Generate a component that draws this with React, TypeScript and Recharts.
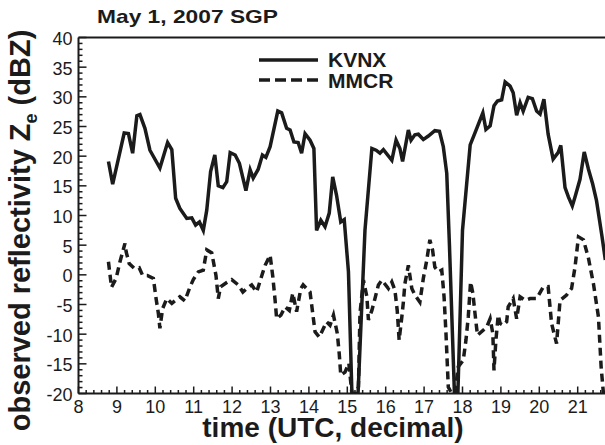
import React from 'react';
import { LineChart, Line, XAxis, YAxis, ReferenceLine } from 'recharts';

// KVNX radar reflectivity (solid)
const kvnxTime = [
  8.78, 8.89, 9.19, 9.3, 9.41, 9.52, 9.6, 9.73, 9.86, 10.12,
  10.32, 10.43, 10.53, 10.64, 10.82, 10.95, 11.05, 11.15, 11.25, 11.34,
  11.44, 11.55, 11.64, 11.76, 11.86, 11.95, 12.08, 12.19, 12.36, 12.47,
  12.55, 12.68, 12.79, 12.88, 12.99, 13.19, 13.29, 13.42, 13.51, 13.61,
  13.72, 13.81, 13.9, 14.03, 14.13, 14.2, 14.31, 14.42, 14.53, 14.62,
  14.72, 14.83, 14.92, 15.03, 15.12, 15.28, 15.46, 15.64, 15.75, 15.85,
  15.94, 16.16, 16.27, 16.37, 16.44, 16.59, 16.66, 16.76, 16.85, 16.98,
  17.11, 17.28, 17.4, 17.5, 17.59, 17.66, 17.79, 17.88, 18.0, 18.2,
  18.33, 18.53, 18.61, 18.72, 18.82, 18.91, 19.02, 19.11, 19.24, 19.32,
  19.41, 19.5, 19.58, 19.71, 19.82, 19.93, 20.02, 20.12, 20.23, 20.36,
  20.49, 20.56, 20.67, 20.76, 20.86, 20.93, 21.06, 21.17, 21.28, 21.39,
  21.49, 21.63, 21.72,
];
const kvnxZe = [
  19.1, 15.3, 23.9, 23.8, 20.5, 26.8, 27.0, 24.7, 21.0, 18.0,
  22.3, 21.1, 12.9, 11.2, 9.5, 9.6, 8.4, 8.9, 7.5, 10.9,
  17.4, 20.2, 15.0, 14.7, 15.7, 20.6, 20.2, 18.8, 14.2, 17.7,
  16.3, 17.8, 20.2, 19.8, 21.6, 27.6, 27.3, 24.7, 24.4, 22.4,
  22.3, 20.5, 23.8, 22.7, 21.3, 7.5, 9.2, 8.1, 10.4, 16.5,
  13.4, 8.9, 9.3, 0.5, -20, -20, 7.5, 21.3, 21.0, 20.5,
  21.1, 19.3, 22.7, 21.3, 19.1, 24.4, 22.7, 23.6, 23.7, 22.8,
  23.4, 24.3, 24.2, 21.6, 17.1, 5.0, -20, -20, 7.5, 21.9,
  24.0, 27.3, 24.5, 25.1, 28.5, 29.3, 29.5, 32.5, 31.8, 30.7,
  26.9, 29.0, 27.6, 29.9, 29.7, 27.6, 27.1, 29.6, 23.7, 19.5,
  20.6, 21.8, 14.7, 13.1, 11.6, 13.1, 16.1, 20.7, 17.8, 15.3,
  12.5, 6.6, 2.5,
];

// MMCR cloud radar reflectivity (dashed)
const mmcrTime = [
  8.78, 8.86, 8.98, 9.08, 9.21, 9.24, 9.32, 9.45, 9.58, 9.67,
  9.79, 9.95, 10.02, 10.08, 10.12, 10.19, 10.3, 10.43, 10.64, 10.77,
  10.9, 10.99, 11.12, 11.25, 11.34, 11.47, 11.58, 11.64, 11.7, 11.86,
  11.99, 12.16, 12.28, 12.38, 12.51, 12.64, 12.74, 12.86, 12.99, 13.06,
  13.12, 13.16, 13.27, 13.38, 13.49, 13.58, 13.68, 13.79, 13.85, 14.03,
  14.1, 14.16, 14.27, 14.38, 14.46, 14.55, 14.64, 14.74, 14.79, 14.83,
  14.94, 15.04, 15.12, 15.22, 15.29, 15.33, 15.42, 15.51, 15.55, 15.64,
  15.72, 15.81, 15.9, 16.07, 16.16, 16.24, 16.3, 16.35, 16.42, 16.46,
  16.5, 16.59, 16.68, 16.76, 16.89, 16.98, 17.07, 17.15, 17.22, 17.28,
  17.37, 17.46, 17.52, 17.57, 17.63, 17.72, 17.8, 17.89, 18.02, 18.09,
  18.15, 18.21, 18.27, 18.33, 18.39, 18.63, 18.72, 18.79, 18.82, 18.87,
  18.93, 18.98, 19.06, 19.15, 19.19, 19.32, 19.41, 19.5, 19.63, 19.76,
  19.93, 20.1, 20.23, 20.32, 20.45, 20.54, 20.71, 20.84, 20.93, 21.02,
  21.15, 21.28, 21.41, 21.54, 21.61, 21.67,
];
const mmcrZe = [
  2.2, -2.1, -0.6, 2.2, 5.3, 3.9, 1.9, 1.1, 1.2, -0.1,
  -0.1, -0.6, -4.0, -6.5, -9.0, -5.7, -4.0, -4.8, -3.7, -4.4,
  -2.1, -0.8, 0.5, 0.8, 4.2, 3.7, -0.1, -4.0, -2.0, -1.3,
  -0.8, -1.7, -2.9, -2.3, -1.7, -2.9, -0.8, 1.6, 3.3, -0.3,
  -4.3, -7.4, -6.8, -5.4, -6.0, -3.1, -6.2, -2.3, -1.7, -2.9,
  -6.5, -9.6, -10.5, -9.0, -7.9, -8.5, -6.8, -9.9, -13.3, -16.9,
  -16.4, -14.9, -20, -20, -18.9, -6.5, -0.9, -3.7, -7.6, -6.0,
  -4.0, -1.7, -0.9, -2.3, -1.2, -2.6, -6.0, -11.0, -7.1, -4.6,
  -1.5, 1.6, -2.3, -3.4, -4.6, -0.6, 2.5, 5.9, 4.2, 1.3,
  0.5, 0.8, -3.7, -9.9, -18.9, -20, -20, -15.5, -14.4, -11.0,
  -7.1, -1.2, -3.1, -6.8, -10.2, -8.8, -7.4, -9.9, -16.1, -11.0,
  -6.8, -8.2, -8.5, -7.9, -5.4, -4.0, -7.4, -3.7, -4.3, -4.0,
  -4.0, -2.1, -2.0, -8.2, -11.6, -4.3, -3.4, -2.3, 1.3, 6.4,
  5.9, 2.8, -1.5, -7.1, -15.5, -20,
];

// labelled ticks (the 22 tick sits past the cropped right edge)
const xMajorTicks = [8, 9, 10, 11, 12, 13, 14, 15, 16, 17, 18, 19, 20, 21, 22];
const xTickLabels = ['8', '9', '10', '11', '12', '13', '14', '15', '16', '17', '18', '19', '20', '21', ''];
const yMajorTicks = [-20, -15, -10, -5, 0, 5, 10, 15, 20, 25, 30, 35, 40];

const INK = '#1b1b1b';
const FONT = '"Liberation Sans", Arial, Helvetica, sans-serif';

const kvnx = kvnxTime.map((t, i) => ({ t, ze: kvnxZe[i] }));
const mmcr = mmcrTime.map((t, i) => ({ t, ze: mmcrZe[i] }));

// minor ticks: 0.2 h on x, 1 dBZ on y
const xTicks = xMajorTicks.flatMap((m, i) =>
  i === xMajorTicks.length - 1 ? [m] : [0, 1, 2, 3, 4].map((k) => Math.round((m + k * 0.2) * 10) / 10)
);
const yTicks = yMajorTicks.flatMap((m, i) =>
  i === yMajorTicks.length - 1 ? [m] : [0, 1, 2, 3, 4].map((k) => m + k)
);

function XTick({ x, y, payload }: any) {
  const v = payload.value;
  const idx = xMajorTicks.indexOf(v);
  const major = idx >= 0;
  return (
    <g>
      <line x1={x} x2={x} y1={y} y2={y - (major ? 7 : 3.5)} stroke={INK} strokeWidth={1.5} />
      {major && xTickLabels[idx] && (
        <text x={x} y={y + 19} textAnchor="middle" fontSize={18} fill={INK} fontFamily={FONT}>
          {xTickLabels[idx]}
        </text>
      )}
    </g>
  );
}

function YTick({ x, y, payload }: any) {
  const v = payload.value;
  const major = v % 5 === 0;
  return (
    <g>
      <line x1={x} x2={x + (major ? 8 : 4)} y1={y} y2={y} stroke={INK} strokeWidth={1.5} />
      {major && (
        <text x={x - 6} y={y + 7.5} textAnchor="end" fontSize={18} fill={INK} fontFamily={FONT}>
          {v}
        </text>
      )}
    </g>
  );
}

export default function App() {
  return (
    <div
      style={{
        position: 'absolute',
        left: 0,
        top: 0,
        width: 605,
        height: 445,
        overflow: 'hidden',
        background: '#fff',
        fontFamily: FONT,
      }}
    >
      <LineChart width={640} height={445} margin={{ top: 37.5, right: 23.9, left: 0, bottom: 0 }}>
        <XAxis
          type="number"
          dataKey="t"
          domain={[8, 22]}
          ticks={xTicks}
          interval={0}
          allowDataOverflow
          height={51.5}
          tickSize={0}
          tickMargin={0}
          tickLine={false}
          axisLine={{ stroke: INK, strokeWidth: 2 }}
          tick={<XTick />}
        />
        <YAxis
          type="number"
          domain={[-20, 40]}
          ticks={yTicks}
          interval={0}
          allowDataOverflow
          width={78.5}
          tickSize={0}
          tickMargin={0}
          tickLine={false}
          axisLine={{ stroke: INK, strokeWidth: 2 }}
          tick={<YTick />}
        />
        <ReferenceLine y={40} stroke={INK} strokeWidth={2} />
        <Line
          data={kvnx}
          dataKey="ze"
          type="linear"
          stroke={INK}
          strokeWidth={3.5}
          strokeLinejoin="miter"
          dot={false}
          isAnimationActive={false}
        />
        <Line
          data={mmcr}
          dataKey="ze"
          type="linear"
          stroke={INK}
          strokeWidth={3.5}
          strokeDasharray="8 5"
          dot={false}
          isAnimationActive={false}
        />
      </LineChart>

      <svg
        width={605}
        height={445}
        style={{ position: 'absolute', left: 0, top: 0, pointerEvents: 'none' }}
        fontFamily={FONT}
      >
        <text x={97} y={22.7} fontSize={18.5} fontWeight="bold" fill={INK} textLength={181} lengthAdjust="spacingAndGlyphs">
          May 1, 2007 SGP
        </text>

        <line x1={259} x2={318} y1={60} y2={60} stroke={INK} strokeWidth={3.5} />
        <text x={328} y={66.7} fontSize={21} fontWeight="bold" fill={INK}>
          KVNX
        </text>
        <line x1={259} x2={318} y1={80} y2={80} stroke={INK} strokeWidth={3.5} strokeDasharray="11 5" />
        <text x={328} y={87.7} fontSize={21} fontWeight="bold" fill={INK}>
          MMCR
        </text>

        <text x={333} y={436.5} fontSize={28} fontWeight="bold" fill={INK} textAnchor="middle">
          time (UTC, decimal)
        </text>

        <text
          transform="translate(30 230.5) rotate(-90)"
          fontSize={29}
          fontWeight="bold"
          fill={INK}
          textAnchor="middle"
        >
          observed reflectivity Z
          <tspan fontSize={18} dy={7}>e</tspan>
          <tspan dy={-7}> (dBZ)</tspan>
        </text>
      </svg>
    </div>
  );
}
